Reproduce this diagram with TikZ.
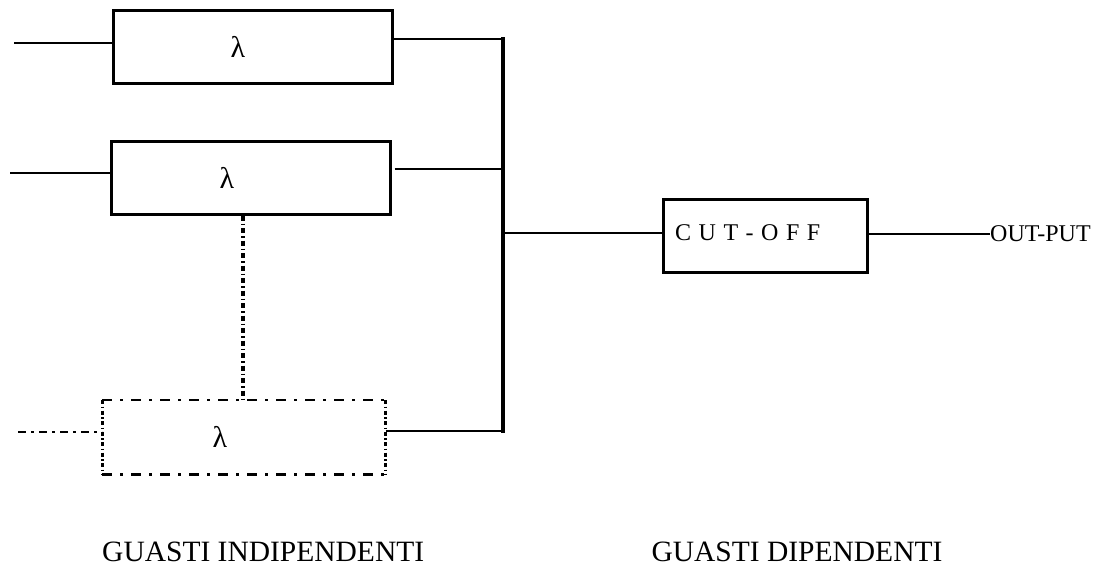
\documentclass[tikz,border=0pt]{standalone}
\usepackage{fontspec}
\setmainfont{Liberation Serif}
\begin{document}
\begin{tikzpicture}[x=1pt,y=-1pt,
  blockbox/.style={draw, line width=2.6pt, minimum width=279pt, minimum height=73pt, inner sep=0pt, anchor=north west},
  wire/.style={line width=1.8pt},
  dashdot/.style={line width=2.6pt, dash pattern=on 10pt off 8pt on 3pt off 8pt},
  sidedots/.style={line width=3pt, dash pattern=on 4pt off 2.5pt on 1.5pt off 2.5pt},
  dotline/.style={line width=3.8pt, dash pattern=on 5pt off 3pt on 1.5pt off 3pt},
  lam/.style={font=\fontsize{30}{30}\selectfont},
  caption/.style={font=\fontsize{29.5}{30}\selectfont}]
\useasboundingbox (0,0) rectangle (1110,570);

% failure-rate blocks
\node[blockbox] (b1) at (112,9) {};
\node[blockbox] (b2) at (110,140) {};
\node[blockbox, draw=none, minimum width=281pt, minimum height=72pt] (b3) at (102,400) {};
\draw[dashdot] (b3.north west) -- (b3.north east);
\draw[dashdot] (b3.south west) -- (b3.south east);
\draw[sidedots] (b3.north west) -- (b3.south west);
\draw[sidedots] (b3.north east) -- (b3.south east);

\node[lam] (l1) at (238,47) {λ};
\node[lam] (l2) at (227,178) {λ};
\node[lam] (l3) at (220,437) {λ};

% inputs
\coordinate (in1) at (14,43);
\coordinate (in2) at (10,173);
\coordinate (in3) at (18,432);
\draw[wire] (in1) -- (b1.west |- in1);
\draw[wire] (in2) -- (b2.west |- in2);
\draw[line width=1.8pt, dash pattern=on 8pt off 5pt on 3pt off 5pt] (in3) -- (b3.west |- in3);

% common bus
\coordinate (bt) at (503,37);
\coordinate (bb) at (503,433);
\coordinate (k1) at (503,39);
\coordinate (k2) at (503,169);
\coordinate (k3) at (503,233);
\coordinate (k4) at (503,431);
\draw[line width=4.6pt] (bt) -- (bb);
\draw[wire] (b1.east |- k1) -- (k1);
\draw[wire] ([xshift=3pt]b2.east |- k2) -- (k2);
\draw[wire] (b3.east |- k4) -- (k4);

% link between the blocks
\draw[dotline] (b2.south -| 243,0) -- (b3.north -| 243,0);

% common-cause block
\node[draw, line width=2.6pt, minimum width=204pt, minimum height=73pt, inner sep=0pt, anchor=north west] (co) at (662,198) {};
\node[font=\fontsize{24}{24}\selectfont, anchor=west, inner sep=0pt] (cot) at (675,233)
  {C\hspace{7.5pt}U\hspace{7.5pt}T\hspace{7.5pt}-\hspace{7.5pt}O\hspace{7.5pt}F\hspace{7.5pt}F};
\draw[wire] (k3) -- (co.west |- k3);
\node[font=\fontsize{24}{24}\selectfont, anchor=west, inner sep=0pt] (out) at (990,234) {OUT-PUT};
\draw[wire] (co.east |- out.west) -- (out.west);

% captions
\node[caption, anchor=west, inner sep=0pt] (c1) at (102,552) {GUASTI INDIPENDENTI};
\node[caption, anchor=center, inner sep=0pt] (c2) at (797,552) {GUASTI DIPENDENTI};
\end{tikzpicture}
\end{document}
